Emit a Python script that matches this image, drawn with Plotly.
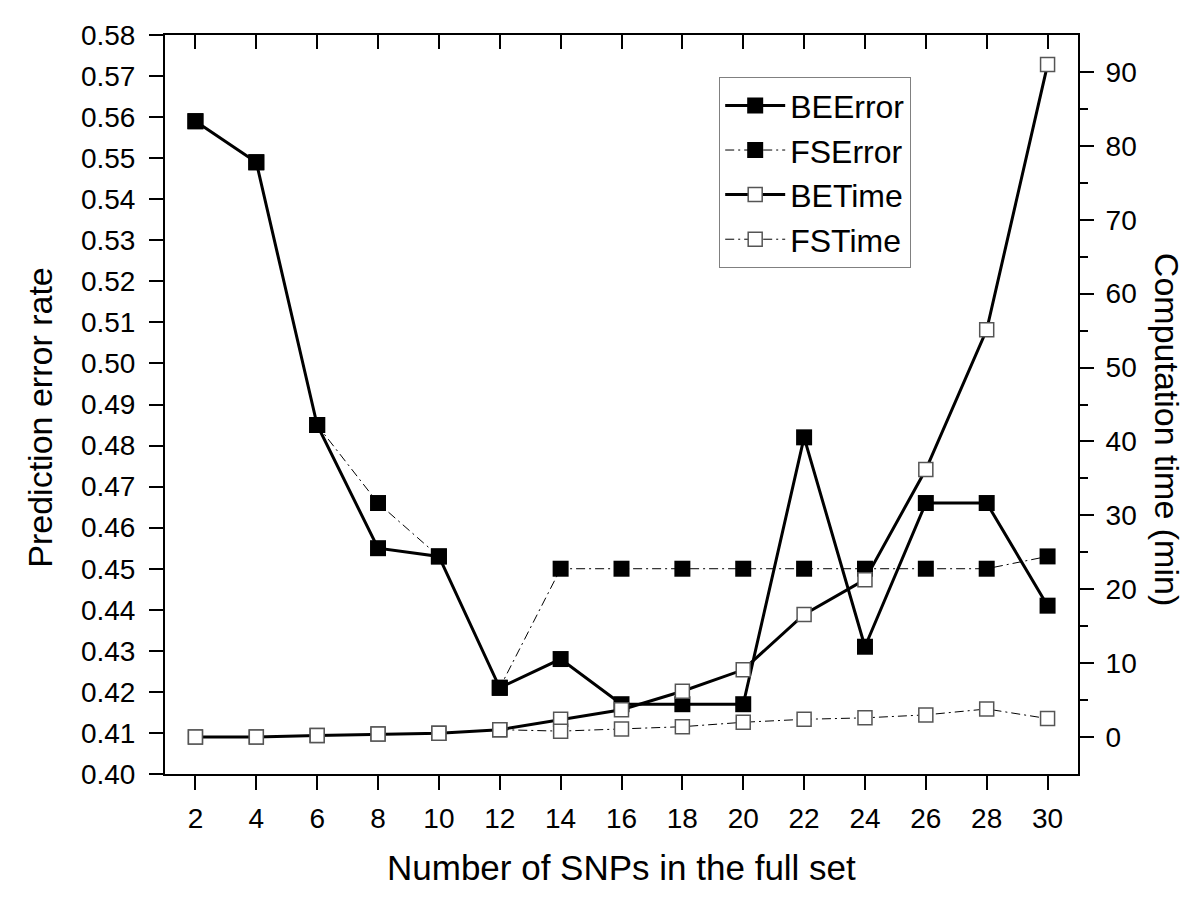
import plotly.graph_objects as go

snps = [2, 4, 6, 8, 10, 12, 14, 16, 18, 20, 22, 24, 26, 28, 30]
be_error = [0.559, 0.549, 0.485, 0.455, 0.453, 0.421, 0.428, 0.417, 0.417, 0.417, 0.482, 0.431, 0.466, 0.466, 0.441]
fs_error = [0.559, 0.549, 0.485, 0.466, 0.453, 0.421, 0.450, 0.450, 0.450, 0.450, 0.450, 0.450, 0.450, 0.450, 0.453]
be_time = [0.0, 0.0, 0.2, 0.4, 0.5, 1.0, 2.4, 3.7, 6.2, 9.1, 16.6, 21.3, 36.2, 55.1, 91.0]
fs_time = [0.0, 0.0, 0.2, 0.4, 0.5, 1.0, 0.8, 1.1, 1.4, 2.0, 2.4, 2.6, 3.0, 3.8, 2.5]

left_ticks = [round(0.40 + 0.01 * i, 2) for i in range(19)]
right_ticks = list(range(0, 100, 10))

FONT = "Liberation Sans, Arial, sans-serif"
dashdot = "9px,4px,2px,4px"

fig = go.Figure()
fig.add_trace(go.Scatter(x=snps, y=be_error, name="BEError", mode="lines+markers",
                         line=dict(color="black", width=3),
                         marker=dict(symbol="square", size=16, color="black"),
                         yaxis="y"))
fig.add_trace(go.Scatter(x=snps, y=fs_error, name="FSError", mode="lines+markers",
                         line=dict(color="black", width=1, dash=dashdot),
                         marker=dict(symbol="square", size=16, color="black"),
                         yaxis="y"))
fig.add_trace(go.Scatter(x=snps, y=be_time, name="BETime", mode="lines+markers",
                         line=dict(color="black", width=3),
                         marker=dict(symbol="square", size=14, color="white",
                                     line=dict(color="#555555", width=1.5)),
                         yaxis="y2"))
fig.add_trace(go.Scatter(x=snps, y=fs_time, name="FSTime", mode="lines+markers",
                         line=dict(color="black", width=1, dash=dashdot),
                         marker=dict(symbol="square", size=14, color="white",
                                     line=dict(color="#555555", width=1.5)),
                         yaxis="y2"))
# invisible trace to activate top axis
fig.add_trace(go.Scatter(x=[snps[0]], y=[be_error[0]], xaxis="x2", yaxis="y",
                         mode="markers", marker=dict(opacity=0), showlegend=False,
                         hoverinfo="skip"))

axis_common = dict(showgrid=False, zeroline=False, showline=True, linecolor="black",
                   linewidth=2, tickcolor="black", tickwidth=2,
                   tickfont=dict(family=FONT, size=28, color="black"))

fig.update_layout(
    width=1192, height=895,
    paper_bgcolor="white", plot_bgcolor="white",
    margin=dict(l=157, r=122, t=27, b=129),
    font=dict(family=FONT, color="black"),
    xaxis=dict(range=[1, 31], tickvals=snps, ticks="outside", ticklen=14,
               ticklabelstandoff=4, **axis_common),
    xaxis2=dict(range=[1, 31], tickvals=snps, ticks="inside", ticklen=14, overlaying="x",
                side="top", showticklabels=False, **axis_common),
    yaxis=dict(range=[0.40, 0.58], tickvals=left_ticks, tickformat=".2f", ticks="outside",
               ticklen=14, ticklabelstandoff=8, **axis_common),
    yaxis2=dict(range=[-5, 95], tickvals=right_ticks, ticks="outside", ticklen=14,
                overlaying="y", side="right", ticklabelstandoff=6,
                minor=dict(tickvals=[5, 15, 25, 35, 45, 55, 65, 75, 85], ticks="outside",
                           ticklen=8, tickcolor="black", tickwidth=2),
                **axis_common),
    legend=dict(x=0.607, y=0.943, xanchor="left", yanchor="top",
                bordercolor="#808080", borderwidth=1, bgcolor="white",
                font=dict(family=FONT, size=32, color="black"),
                tracegroupgap=0, itemwidth=60),
    showlegend=True,
    annotations=[
        dict(text="Number of SNPs in the full set", xref="paper", yref="paper",
             x=0.5, y=-0.126, xanchor="center", yanchor="middle", showarrow=False,
             font=dict(family=FONT, size=35, color="black")),
        dict(text="Prediction error rate", xref="paper", yref="paper",
             x=-0.137, y=0.482, xanchor="center", yanchor="middle", showarrow=False,
             textangle=-90, font=dict(family=FONT, size=34, color="black")),
        dict(text="Computation time (min)", xref="paper", yref="paper",
             x=1.0975, y=0.467, xanchor="center", yanchor="middle", showarrow=False,
             textangle=90, font=dict(family=FONT, size=34, color="black")),
    ],
)

fig.write_html("out.html")
